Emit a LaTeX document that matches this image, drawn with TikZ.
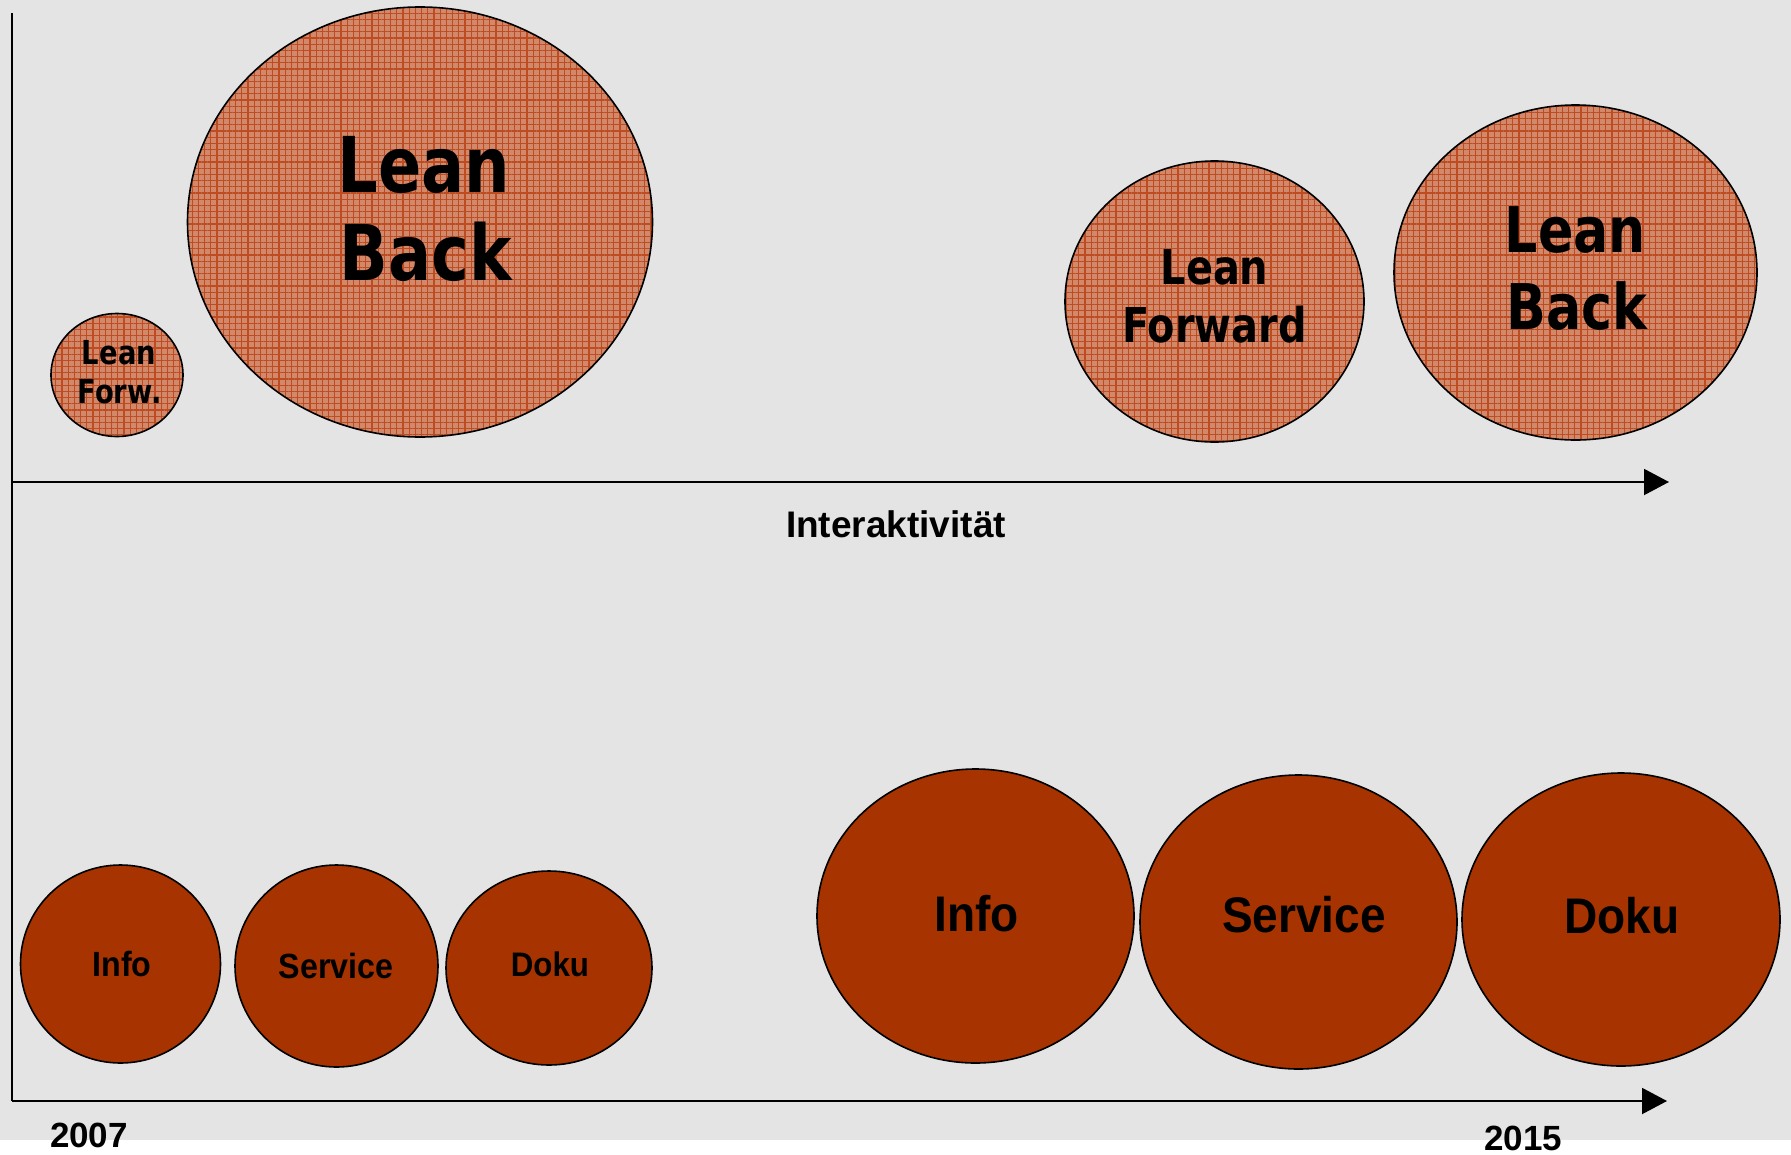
\documentclass[tikz,border=0pt]{standalone}
\usepackage{fontspec}
\usetikzlibrary{shapes.geometric,arrows.meta,patterns.meta}
\setmainfont{Liberation Sans}
\newfontfamily\roundfont{DejaVu Sans}[FakeStretch=0.83]
\newfontfamily\narrowfont{Liberation Sans}[FakeStretch=0.92]
\definecolor{bggray}{RGB}{228,228,228}
\definecolor{rust}{RGB}{166,51,0}
\definecolor{paleorange}{RGB}{210,136,106}
\definecolor{gridorange}{RGB}{190,76,32}
\tikzset{
  axisline/.style={line width=2pt, -{Triangle[length=25pt,width=26pt]}},
  meshdisc/.style={ellipse, draw=black, line width=1.6pt, inner sep=0pt,
    preaction={fill=paleorange},
    pattern={Hatch[distance=6.2pt,line width=1.1pt]}, pattern color=gridorange},
  soliddisc/.style={ellipse, draw=black, line width=1.6pt, inner sep=0pt, fill=rust},
  disclabel/.style={anchor=base, inner sep=0pt, text=black},
  yearlabel/.style={anchor=base, inner sep=0pt, font=\bfseries\fontsize{35}{38}\selectfont},
}
\newcommand{\disc}[6]{% style, name, x, y, rx, ry
  \node[#1, minimum width=#5*2pt, minimum height=#6*2pt] (#2) at (#3,#4) {};}
\begin{document}
\begin{tikzpicture}[x=1pt,y=-1pt]
\useasboundingbox (0,0) rectangle (1791,1154);
\fill[bggray] (0,0) rectangle (1791,1140);

% axes
\coordinate (axtop) at (12,13);
\coordinate (origin) at (12,1101);
\coordinate (timeend) at (1667,1101);
\coordinate (midleft) at (12,482);
\coordinate (midend) at (1669,482);
\draw[line width=2pt] (axtop) -- (origin);
\draw[axisline] (origin) -- (timeend);
\draw[axisline] (midleft) -- (midend);

% upper row: textured discs
\disc{meshdisc}{lfs}{117}{375}{66}{61.5}
\disc{meshdisc}{lbb}{420}{222}{232.5}{215}
\disc{meshdisc}{lfr}{1214.5}{301.5}{149.5}{140.5}
\disc{meshdisc}{lbr}{1575.5}{272.5}{181.5}{167.5}

\begin{scope}[every node/.style={disclabel}]
  \node[font=\roundfont\bfseries\fontsize{33}{36}\selectfont] (lfs1) at (119,364) {Lean};
  \node[font=\roundfont\bfseries\fontsize{33}{36}\selectfont] (lfs2) at (119.5,403) {Forw.};
  \node[font=\roundfont\bfseries\fontsize{77}{80}\selectfont] (lbb1) at (424,192) {Lean};
  \node[font=\roundfont\bfseries\fontsize{77}{80}\selectfont] (lbb2) at (425.5,280) {Back};
  \node[font=\roundfont\bfseries\fontsize{48}{52}\selectfont] (lfr1) at (1214.5,284) {Lean};
  \node[font=\roundfont\bfseries\fontsize{48}{52}\selectfont] (lfr2) at (1214.5,342) {Forward};
  \node[font=\roundfont\bfseries\fontsize{63}{66}\selectfont] (lbr1) at (1575.5,252) {Lean};
  \node[font=\roundfont\bfseries\fontsize{63}{66}\selectfont] (lbr2) at (1577,329) {Back};
\end{scope}

% lower row: solid discs
\disc{soliddisc}{infos}{120.5}{964}{100}{99}
\disc{soliddisc}{servs}{336.5}{966}{101.5}{101}
\disc{soliddisc}{dokus}{549}{968}{103}{97}
\disc{soliddisc}{infob}{975.5}{916}{158.5}{147}
\disc{soliddisc}{servb}{1298.5}{922}{158.5}{147}
\disc{soliddisc}{dokub}{1621}{919.5}{159}{146.5}

\begin{scope}[every node/.style={disclabel}]
  \node[font=\narrowfont\bfseries\fontsize{35}{38}\selectfont] (tinfos) at (122,976) {Info};
  \node[font=\narrowfont\bfseries\fontsize{35}{38}\selectfont] (tservs) at (336,978) {Service};
  \node[font=\narrowfont\bfseries\fontsize{34}{38}\selectfont] (tdokus) at (550,976) {Doku};
  \node[font=\narrowfont\bfseries\fontsize{50}{54}\selectfont] (tinfob) at (976.5,931) {Info};
  \node[font=\narrowfont\bfseries\fontsize{50}{54}\selectfont] (tservb) at (1304,932) {Service};
  \node[font=\narrowfont\bfseries\fontsize{50}{54}\selectfont] (tdokub) at (1622,933) {Doku};
\end{scope}

% axis captions
\node[anchor=base, inner sep=0pt, font=\bfseries\fontsize{37}{40}\selectfont] (inter) at (896,537) {Interaktivität};
\node[yearlabel] (y2007) at (89,1147) {2007};
\node[yearlabel] (y2015) at (1523,1150) {2015};
\end{tikzpicture}
\end{document}
